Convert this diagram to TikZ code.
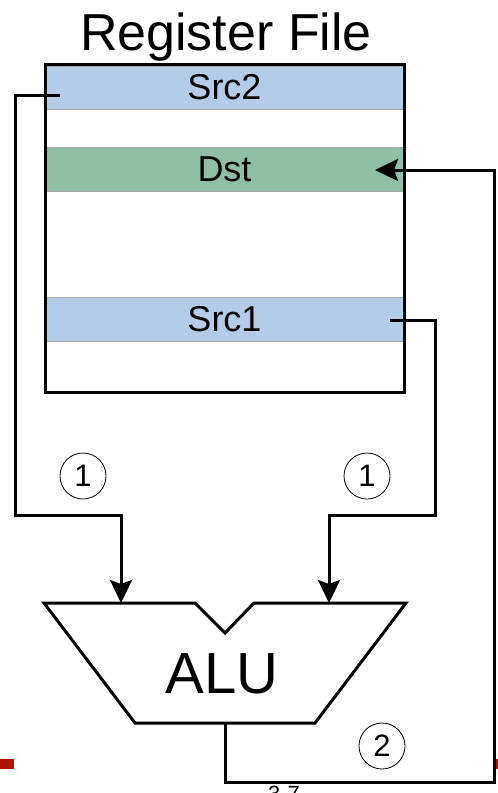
\documentclass[tikz,border=0pt]{standalone}
\usepackage{fontspec}
\setmainfont{Liberation Sans}
\usepackage{tikz}
\usetikzlibrary{arrows, arrows.meta}
\definecolor{srcblue}{RGB}{179,205,232}
\definecolor{dstgreen}{RGB}{143,191,164}
\definecolor{slidered}{RGB}{176,20,0}

\begin{document}
\begin{tikzpicture}[x=1pt,y=-1pt,>={Stealth[length=23pt,width=22pt,inset=4pt]},
                    line join=miter]
\tikzstyle{row}=[draw=gray!70,line width=1pt,minimum width=357pt,minimum height=44pt,inner sep=0pt,font=\fontsize{36pt}{40pt}\selectfont]
\tikzstyle{wire}=[line width=3pt]
\tikzstyle{stepnum}=[circle,draw,line width=0.8pt,minimum size=46pt,inner sep=0pt,font=\fontsize{31pt}{34pt}\selectfont]

\useasboundingbox (0,0) rectangle (498,793);

        % register file
        \node[anchor=base,font=\fontsize{52pt}{56pt}\selectfont] (title) at (226,50) {Register File};
        \node[row,fill=srcblue,minimum height=43pt]          (src2) at (224.5,87.5) {Src2};
        \node[row,fill=dstgreen,node distance=81.5pt]        (dst)  [below of=src2] {Dst};
        \node[row,fill=srcblue,node distance=150pt]          (src1) [below of=dst]  {Src1};
        \node[draw,line width=3pt,minimum width=358.5pt,minimum height=328pt,inner sep=0pt] (rf) at (224.75,228.5) {};

        \coordinate (s2out) at (60,95);
        \coordinate (s1out) at (390,320);
        \coordinate (dstin) at (375,170);

        % alu
        \coordinate (aluA)   at (121,603);
        \coordinate (aluB)   at (329,603);
        \coordinate (aluOut) at (225,723);
        \draw[line width=3pt] (44,603) -- (195,603) -- (225,633) -- (254,603) -- (406,603)
              -- (315,723) -- (135,723) -- cycle;
        \node[anchor=base,font=\fontsize{58pt}{60pt}\selectfont] (alu) at (222,693) {ALU};

        % steps
        \node[stepnum] (n1a) at (83,476)  {1};
        \node[stepnum] (n1b) at (367,476) {1};
        \node[stepnum] (n2)  at (382,746) {2};

        \draw[wire,->] (s2out) -- ++(-45,0) -- ++(0,420) -| (aluA);
        \draw[wire,->] (s1out) -- ++(45,0) -- ++(0,195) -| (aluB);
        \draw[wire,->] (aluOut) -- ++(0,59) -- ++(269,0) |- (dstin);

        % slide footer
        \fill[slidered] (0,759) rectangle (14,769);
        \fill[slidered] (496,759) rectangle (498,769);
        \node[anchor=base,font=\fontsize{22pt}{24pt}\selectfont] (pagenum) at (284,801) {3-7};

\end{tikzpicture}
\end{document}
